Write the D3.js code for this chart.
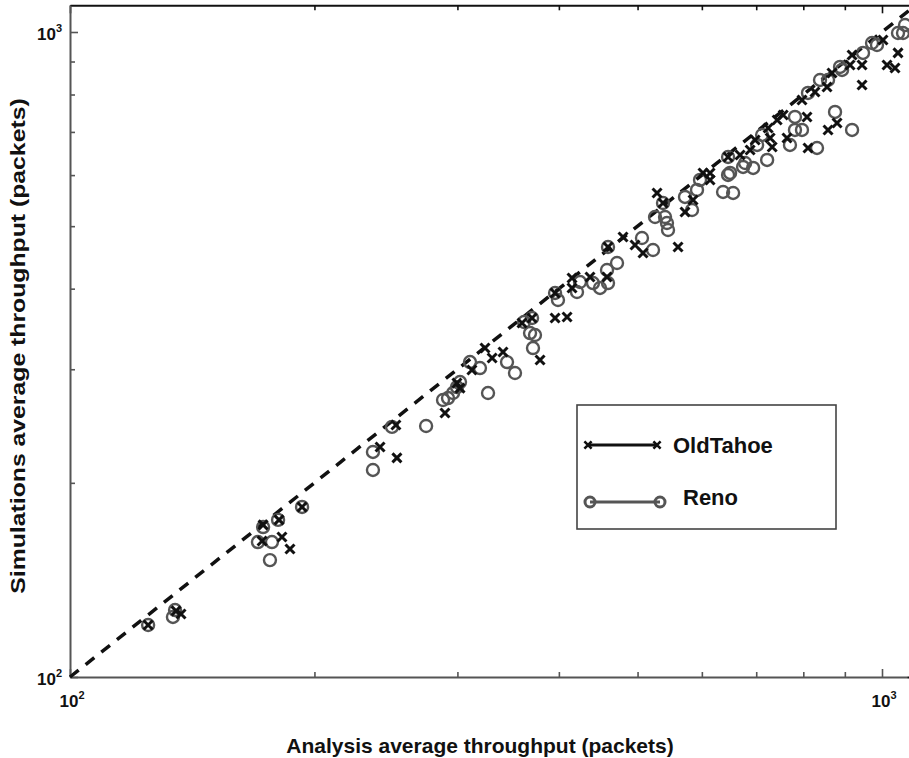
<!DOCTYPE html>
<html>
<head>
<meta charset="utf-8">
<script src="https://cdn.jsdelivr.net/npm/d3@7/dist/d3.min.js"></script>
<style>
  html, body { margin: 0; padding: 0; background: #fff; }
  svg { display: block; font-family: "Liberation Sans", Arial, Helvetica, sans-serif; }
</style>
</head>
<body>
<svg id="chart" width="909" height="758"></svg>
<script>
// ---------------- data ----------------
const seriesNames = ["OldTahoe", "Reno"];

const oldTahoeX = [124.8,135.1,137.0,172.9,180.9,193.1,182.4,186.6,172.4,240.9,252.7,252.0,289.6,299.6,302.2,312.6,324.4,331.0,341.4,360.3,370.7,379.2,395.7,409.4,395.7,415.2,415.2,436.9,458.5,459.8,479.8,496.4,507.8,528.4,537.4,560.8,572.0,585.2,602.0,614.1,646.3,614.1,668.7,688.0,697.9,728.2,732.4,724.1,763.8,742.8,755.6,810.7,797.0,826.9,808.4,855.6,867.8,858.1,880.3,913.4,945.0,945.0,1014.3,1037.6,1002.8,1046.4,918.6];
const oldTahoeY = [120.4,126.6,125.2,172.1,175.2,183.5,164.8,157.9,162.5,227.3,218.6,245.9,256.6,285.6,280.5,299.2,323.6,312.3,319.1,353.8,360.2,310.1,360.2,361.5,393.9,401.0,415.6,417.0,417.0,464.2,481.0,467.5,454.3,562.9,543.1,464.2,526.0,549.0,604.6,589.7,640.1,604.6,644.7,656.3,680.2,685.1,663.4,710.0,685.1,730.5,743.7,661.0,784.6,807.3,738.4,821.8,864.0,704.9,722.7,889.0,889.0,827.7,889.0,879.6,971.9,928.0,921.3];

const renoX = [124.8,134.7,133.9,172.9,170.4,177.3,180.4,176.3,193.1,236.1,236.1,249.2,274.5,288.0,292.1,296.3,299.6,302.2,310.9,319.8,327.2,345.3,353.2,362.4,368.6,373.8,371.7,370.7,399.0,395.7,421.1,424.7,440.6,449.5,459.8,458.5,471.7,459.8,506.3,522.4,525.4,537.4,540.5,543.5,545.1,572.0,583.5,591.8,596.9,637.2,655.6,650.0,646.3,674.4,646.3,678.3,693.9,701.8,711.8,722.0,770.3,781.3,781.3,797.0,831.7,810.7,838.8,858.1,875.3,918.6,887.8,947.6,985.9,972.1,1046.4,1061.4,892.9,1067.5];
const renoY = [120.4,127.0,123.9,170.8,161.9,161.9,175.2,151.8,183.5,223.3,209.4,244.2,245.0,268.8,270.7,275.6,281.5,286.6,307.8,301.3,275.6,307.8,296.0,355.1,341.4,339.0,323.6,360.2,384.1,393.9,395.3,409.6,408.1,401.0,408.1,427.6,438.4,464.2,479.3,459.2,516.6,543.1,516.6,505.7,493.2,555.0,529.7,569.0,589.7,564.9,562.9,604.6,640.1,617.7,600.3,626.5,615.5,668.1,692.4,633.3,668.1,738.4,704.9,704.9,661.0,804.5,842.6,842.6,751.7,704.9,882.7,928.0,954.6,961.5,996.4,996.4,873.3,1025.3];

const axisDomain = [100, 1100];
const minorTicks = [100,200,300,400,500,600,700,800,900,1000];
const majorTicks = [100, 1000];
const majorTickBase = "10";
const majorTickExp = ["2", "3"];
const xTitle = "Analysis average throughput (packets)";
const yTitle = "Simulations average throughput (packets)";

(function () {
// ---------------- layout ----------------
const svg = d3.select("#chart");
const left = 70, bottom = 677, decadeX = 812, decadeY = 645;
const x = d3.scaleLog().domain(axisDomain).range([left, left + decadeX * Math.log10(axisDomain[1] / axisDomain[0])]);
const y = d3.scaleLog().domain(axisDomain).range([bottom, bottom - decadeY * Math.log10(axisDomain[1] / axisDomain[0])]);
const plotTop = y.range()[1], plotRight = x.range()[1];

svg.append("rect").attr("width", 909).attr("height", 758).attr("fill", "#fff");

// ---------------- axes ----------------
const axisColor = "#555";
function styleAxis(g, color) {
  g.select(".domain").attr("stroke", color).attr("stroke-width", 2);
  g.selectAll(".tick line").attr("stroke", color).attr("stroke-width", 1.6);
  g.selectAll(".tick text").remove();
}
function tickLen(d) { return majorTicks.includes(d) ? 8 : 5; }

const gxb = svg.append("g").attr("transform", `translate(0,${bottom})`)
  .call(d3.axisBottom(x).tickValues(minorTicks).tickSizeOuter(0).tickFormat(""));
styleAxis(gxb, axisColor);
gxb.selectAll(".tick line").attr("y2", d => -tickLen(d));

const gxt = svg.append("g").attr("transform", `translate(0,${plotTop})`)
  .call(d3.axisTop(x).tickValues(minorTicks).tickSizeOuter(0).tickFormat(""));
styleAxis(gxt, "#111");
gxt.selectAll(".tick line").attr("y2", d => tickLen(d));

const gyl = svg.append("g").attr("transform", `translate(${left},0)`)
  .call(d3.axisLeft(y).tickValues(minorTicks).tickSizeOuter(0).tickFormat(""));
styleAxis(gyl, axisColor);
gyl.selectAll(".tick line").attr("x2", d => tickLen(d));

const gyr = svg.append("g").attr("transform", `translate(${plotRight},0)`)
  .call(d3.axisRight(y).tickValues(minorTicks).tickSizeOuter(0).tickFormat(""));
styleAxis(gyr, "#111");
gyr.selectAll(".tick line").attr("x2", d => -tickLen(d));

// tick labels (10^n)
function powerLabel(g, px, py, anchor, exp) {
  const t = g.append("text").attr("x", px).attr("y", py).attr("text-anchor", anchor)
    .attr("font-weight", "bold").attr("fill", "#111");
  t.append("tspan").attr("font-size", 17).text(majorTickBase);
  t.append("tspan").attr("font-size", 11).attr("dy", -8).text(exp);
}
const labels = svg.append("g");
majorTicks.forEach((v, i) => {
  powerLabel(labels, x(v) + 2, bottom + 30, "middle", majorTickExp[i]);
  powerLabel(labels, left - 8, y(v) + 8, "end", majorTickExp[i]);
});

// axis titles
svg.append("text").attr("x", 480).attr("y", 753).attr("text-anchor", "middle")
  .attr("font-size", 21).attr("font-weight", "bold").attr("fill", "#111").text(xTitle);
svg.append("text").attr("transform", `translate(25,346) scale(1,1.18) rotate(-90)`).attr("text-anchor", "middle")
  .attr("font-size", 21).attr("font-weight", "bold").attr("fill", "#111").text(yTitle);

// ---------------- plot ----------------
const plot = svg.append("g");
plot.append("line")
  .attr("x1", x(axisDomain[0])).attr("y1", y(axisDomain[0]))
  .attr("x2", x(axisDomain[1])).attr("y2", y(axisDomain[1]))
  .attr("stroke", "#111").attr("stroke-width", 3.5).attr("stroke-dasharray", "11,9");

const reno = renoX.map((v, i) => [v, renoY[i]]);
const tahoe = oldTahoeX.map((v, i) => [v, oldTahoeY[i]]);

const xMark = "M-4.5,-4.5L4.5,4.5M-4.5,4.5L4.5,-4.5";
plot.selectAll("circle.reno").data(reno).join("circle").attr("class", "reno")
  .attr("cx", d => x(d[0])).attr("cy", d => y(d[1])).attr("r", 6)
  .attr("fill", "none").attr("stroke", "#555").attr("stroke-width", 2.4);
plot.selectAll("path.tahoe").data(tahoe).join("path").attr("class", "tahoe")
  .attr("transform", d => `translate(${x(d[0])},${y(d[1])})`).attr("d", xMark)
  .attr("fill", "none").attr("stroke", "#111").attr("stroke-width", 3);

// ---------------- legend ----------------
const lg = svg.append("g");
lg.append("rect").attr("x", 577).attr("y", 405).attr("width", 259).attr("height", 124)
  .attr("fill", "#fff").attr("stroke", "#444").attr("stroke-width", 1.6);
lg.append("line").attr("x1", 588).attr("x2", 657).attr("y1", 445).attr("y2", 445)
  .attr("stroke", "#111").attr("stroke-width", 3);
[588, 657].forEach(px => lg.append("path").attr("d", xMark).attr("transform", `translate(${px},445) scale(0.8)`)
  .attr("stroke", "#111").attr("stroke-width", 3.2).attr("fill", "none"));
lg.append("text").attr("x", 673).attr("y", 453).attr("font-size", 22).attr("font-weight", "bold")
  .attr("fill", "#111").text(seriesNames[0]);
lg.append("line").attr("x1", 590).attr("x2", 660).attr("y1", 502).attr("y2", 502)
  .attr("stroke", "#555").attr("stroke-width", 3);
[590, 660].forEach(px => lg.append("circle").attr("cx", px).attr("cy", 502).attr("r", 5)
  .attr("stroke", "#555").attr("stroke-width", 3).attr("fill", "none"));
lg.append("text").attr("x", 683).attr("y", 505).attr("font-size", 22).attr("font-weight", "bold")
  .attr("fill", "#111").text(seriesNames[1]);
})();
</script>
</body>
</html>
